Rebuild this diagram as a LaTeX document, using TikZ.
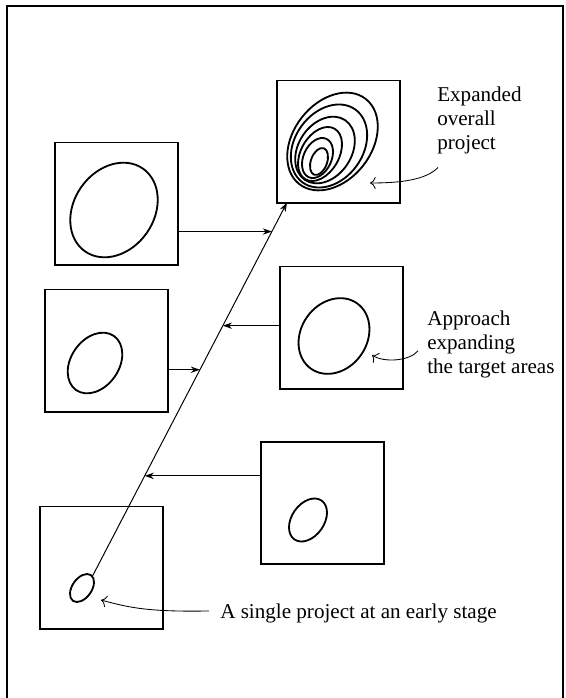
\documentclass[tikz,border=0pt]{standalone}
\usepackage{fontspec}
\setmainfont{Liberation Serif}
\usetikzlibrary{arrows.meta,positioning,calc}

\begin{document}
\begin{tikzpicture}[x=0.025cm, y=-0.025cm,
    % --- Box styles ---
    frame/.style={draw, line width=1.4pt, minimum width=3.075cm,
                  minimum height=3.05cm, inner sep=0pt, outer sep=0pt},
    area/.style={line width=1.3pt},
    note/.style={font=\fontsize{15}{17}\selectfont, align=left, inner sep=0pt},
    % --- Arrow styles ---
    flow/.style={-{Stealth[length=6.5pt, width=4.5pt]}, line width=0.7pt},
    hint/.style={-{To[length=4pt]}, line width=0.6pt},
]

\useasboundingbox (0,0) rectangle (566,698);

% === Outer frame ===
\draw[line width=1.5pt] (7,698) -- (7,6) -- (563,6) -- (563,698);

% === The six stages as boxes ===
\node[frame] (overall) at (338.5,141.5) {};
\node[frame] (stageD)  at (116.5,203.5) {};
\node[frame] (stageC)  at (341.5,327.5) {};
\node[frame] (stageB)  at (106.5,350.5) {};
\node[frame] (stageA)  at (322.5,503)   {};
\node[frame] (early)   at (101.5,567.5) {};

% === Target areas inside the boxes ===
\foreach \cx/\cy/\ra/\rb/\rot in {332.5/141.5/54/39/52, 329/146/45/34/54,
    325/150/36/26.5/56, 320/154/29.2/19/60, 317.5/158/21.1/14/65,
    319/161.5/14.1/8.1/70}
  \draw[area, rotate around={\rot:(\cx,\cy)}] (\cx,\cy) ellipse [x radius=\ra, y radius=\rb];
\draw[area, rotate around={55:(114,210)}] (114,210) ellipse (50.5 and 40);
\draw[area, rotate around={55:(334,336)}] (334,336) ellipse (40 and 33);
\draw[area, rotate around={55:(95,363)}]  (95,363)  ellipse (33 and 24);
\draw[area, rotate around={55:(308,520)}] (308,520) ellipse (23.7 and 16.2);
\draw[area, rotate around={55:(82,588)}]  (82,588)  ellipse (15.7 and 9.7);

% === Growth line from the single project to the overall project ===
\coordinate (seed) at (92,577);
\coordinate (tip)  at ($(overall.south west)+(10,0)$);
\draw[flow] (seed) -- (tip);

% points where the stages join the line
\coordinate (onA) at ($(seed)!0.2701!(tip)$);
\coordinate (onB) at ($(seed)!0.5535!(tip)$);
\coordinate (onC) at ($(seed)!0.6711!(tip)$);
\coordinate (onD) at ($(seed)!0.9225!(tip)$);

\draw[flow] (stageA.west |- onA) -- (onA);
\draw[flow] (stageB.east |- onB) -- (onB);
\draw[flow] (stageC.west |- onC) -- (onC);
\draw[flow] (stageD.east |- onD) -- (onD);

% === Labels ===
\node[note, anchor=north west] (expText)  at (437,87)  {Expanded\\overall\\project};
\node[note, anchor=north west] (apprText) at (427,311) {Approach\\expanding\\the target areas};
\node[note, anchor=base west]  (seedText) at (220,618) {A single project at an early stage};

% label pointers
\coordinate (inOverall) at (370,183);
\coordinate (inStageC)  at (372,355);
\coordinate (inEarly)   at (101,600);
\draw[hint] ($(expText.south west)+(1,13)$) .. controls (426,180) and (400,183) .. (inOverall);
\draw[hint] ($(apprText.west)+(-9,6)$) .. controls (410,361) and (384,363) .. (inStageC);
\draw[hint] ($(seedText.west)+(-11,-2)$) .. controls (150,612) and (130,608) .. (inEarly);

\end{tikzpicture}
\end{document}
